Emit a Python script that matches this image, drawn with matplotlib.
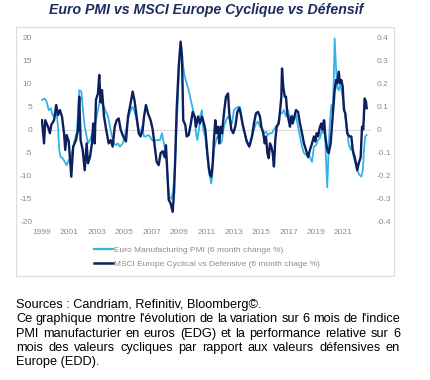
import matplotlib
matplotlib.use("Agg")
import matplotlib.pyplot as plt
from matplotlib.lines import Line2D
from matplotlib.patches import Rectangle

plt.rcParams['font.family'] = ['Liberation Sans', 'DejaVu Sans']
plt.rcParams['axes.unicode_minus'] = False

# Euro Manufacturing PMI, 6 month change (%) - left axis
pmi_years = [
    1999.00, 1999.20, 1999.34, 1999.49, 1999.64, 1999.78, 1999.93, 2000.07, 2000.17, 2000.26,
    2000.36, 2000.51, 2000.66, 2000.80, 2000.95, 2001.09, 2001.24, 2001.39, 2001.53, 2001.63,
    2001.72, 2001.87, 2001.97, 2002.12, 2002.26, 2002.36, 2002.50, 2002.60, 2002.74, 2002.89,
    2002.99, 2003.09, 2003.23, 2003.38, 2003.53, 2003.67, 2003.82, 2003.96, 2004.11, 2004.26,
    2004.40, 2004.55, 2004.69, 2004.89, 2005.04, 2005.18, 2005.33, 2005.47, 2005.62, 2005.77,
    2005.91, 2006.06, 2006.20, 2006.30, 2006.45, 2006.59, 2006.74, 2006.88, 2007.03, 2007.18,
    2007.32, 2007.47, 2007.61, 2007.76, 2007.85, 2008.00, 2008.10, 2008.20, 2008.29, 2008.44,
    2008.58, 2008.69, 2008.78, 2008.88, 2008.98, 2009.07, 2009.17, 2009.27, 2009.42, 2009.56,
    2009.71, 2009.85, 2010.00, 2010.15, 2010.24, 2010.34, 2010.48, 2010.53, 2010.68, 2010.77,
    2010.92, 2011.07, 2011.17, 2011.26, 2011.36, 2011.46, 2011.55, 2011.65, 2011.80, 2011.94,
    2012.04, 2012.14, 2012.28, 2012.43, 2012.58, 2012.72, 2012.87, 2013.01, 2013.16, 2013.31,
    2013.45, 2013.60, 2013.74, 2013.89, 2014.04, 2014.18, 2014.33, 2014.47, 2014.62, 2014.77,
    2014.91, 2015.06, 2015.20, 2015.35, 2015.50, 2015.64, 2015.79, 2015.93, 2016.08, 2016.23,
    2016.37, 2016.52, 2016.66, 2016.81, 2016.96, 2017.10, 2017.25, 2017.39, 2017.54, 2017.69,
    2017.83, 2017.98, 2018.12, 2018.27, 2018.42, 2018.56, 2018.71, 2018.85, 2019.00, 2019.15,
    2019.29, 2019.44, 2019.53, 2019.64, 2019.73, 2019.82, 2019.93, 2020.02, 2020.12, 2020.22,
    2020.31, 2020.36, 2020.46, 2020.55, 2020.66, 2020.75, 2020.90, 2021.04, 2021.14, 2021.28,
    2021.38, 2021.53, 2021.63, 2021.72, 2021.87, 2022.01, 2022.16, 2022.31, 2022.42, 2022.50,
    2022.60, 2022.70,
]
pmi_change = [
    6.4, 6.7, 6.0, 4.2, 4.6, 3.1, 2.8, 3.5, 0.6, -4.4,
    -6.0, -6.2, -7.0, -7.7, -6.6, -6.0, -4.4, -2.3, -0.8, 3.5,
    8.5, 8.2, 4.9, 0.6, -1.5, -3.0, -2.3, -1.5, 0.0, 1.3,
    2.8, 4.2, 6.4, 5.6, 4.9, 3.8, 2.8, 0.6, -1.5, -3.0,
    -3.4, -3.0, -3.7, -3.0, -1.5, 0.6, 2.8, 4.2, 4.9, 3.8,
    2.0, 0.0, -0.8, 0.6, -1.5, -1.5, -1.2, -1.5, -2.3, -2.6,
    -2.3, -2.3, -2.3, -0.8, -2.3, -4.4, -7.3, -11.7, -14.6, -15.0,
    -13.2, -8.8, -2.3, 4.2, 10.7, 17.3, 18.0, 14.4, 11.5, 10.0,
    8.5, 6.5, 4.6, 2.4, -0.8, -2.3, 0.6, 2.8, 4.2, 0.0,
    -1.5, -6.0, -8.8, -10.2, -11.7, -8.8, -4.4, -3.0, -1.5, -2.3,
    -3.0, -2.3, 0.6, 2.0, 2.8, 2.0, 1.3, 4.2, 4.6, 4.9,
    4.9, 2.0, 0.0, -1.9, -3.0, -3.4, -1.5, 0.0, 1.3, 1.7,
    0.6, 0.3, -0.8, -0.5, -1.2, -0.8, -0.8, 0.0, 0.6, 1.3,
    3.5, 3.5, 4.2, 2.8, 4.2, 2.0, 3.1, 2.0, 3.1, 0.6,
    -1.5, -3.7, -5.1, -5.5, -5.1, -6.0, -7.0, -3.7, -3.4, -2.3,
    -1.9, 0.0, -0.8, 2.0, -6.6, -12.5, -3.7, 2.0, 5.3, 3.5,
    12.2, 19.7, 13.6, 8.9, 8.5, 10.0, 7.8, 5.6, 2.8, 0.0,
    -3.0, -4.4, -3.4, -5.5, -7.3, -8.8, -9.8, -10.2, -8.8, -4.4,
    -1.5, -1.2,
]

# MSCI Europe Cyclical vs Defensive, 6 month change - right axis
msci_years = [
    1999.00, 1999.15, 1999.24, 1999.44, 1999.58, 1999.68, 1999.88, 2000.04, 2000.17, 2000.31,
    2000.46, 2000.61, 2000.70, 2000.80, 2000.95, 2001.14, 2001.28, 2001.48, 2001.63, 2001.72,
    2001.82, 2001.97, 2002.12, 2002.26, 2002.36, 2002.50, 2002.65, 2002.74, 2002.85, 2002.94,
    2003.09, 2003.18, 2003.28, 2003.38, 2003.53, 2003.69, 2003.87, 2004.01, 2004.16, 2004.31,
    2004.45, 2004.60, 2004.74, 2004.93, 2005.13, 2005.28, 2005.42, 2005.62, 2005.77, 2005.91,
    2006.06, 2006.20, 2006.35, 2006.45, 2006.59, 2006.74, 2006.93, 2007.08, 2007.23, 2007.37,
    2007.52, 2007.66, 2007.81, 2007.96, 2008.05, 2008.15, 2008.25, 2008.39, 2008.54, 2008.64,
    2008.73, 2008.83, 2008.98, 2009.12, 2009.22, 2009.31, 2009.46, 2009.56, 2009.71, 2009.85,
    2010.00, 2010.15, 2010.24, 2010.39, 2010.53, 2010.68, 2010.82, 2010.92, 2011.07, 2011.17,
    2011.26, 2011.36, 2011.46, 2011.55, 2011.65, 2011.75, 2011.85, 2011.94, 2012.04, 2012.14,
    2012.28, 2012.43, 2012.58, 2012.67, 2012.82, 2012.96, 2013.11, 2013.26, 2013.40, 2013.50,
    2013.65, 2013.80, 2013.94, 2014.13, 2014.33, 2014.47, 2014.62, 2014.77, 2014.91, 2015.01,
    2015.15, 2015.26, 2015.35, 2015.45, 2015.55, 2015.64, 2015.74, 2015.84, 2015.93, 2016.03,
    2016.13, 2016.28, 2016.37, 2016.47, 2016.52, 2016.61, 2016.72, 2016.81, 2016.90, 2017.01,
    2017.10, 2017.20, 2017.30, 2017.39, 2017.54, 2017.69, 2017.83, 2017.98, 2018.12, 2018.27,
    2018.42, 2018.56, 2018.71, 2018.85, 2018.95, 2019.05, 2019.15, 2019.29, 2019.39, 2019.49,
    2019.58, 2019.68, 2019.82, 2019.93, 2020.07, 2020.22, 2020.36, 2020.46, 2020.55, 2020.66,
    2020.75, 2020.85, 2020.95, 2021.04, 2021.14, 2021.28, 2021.43, 2021.58, 2021.68, 2021.82,
    2021.92, 2022.01, 2022.12, 2022.26, 2022.36, 2022.45, 2022.55, 2022.65, 2022.70,
]
msci_change = [
    0.040, -0.060, 0.040, 0.012, -0.016, 0.020, 0.040, 0.106, 0.062, 0.084,
    0.056, -0.016, -0.088, -0.024, -0.050, -0.204, -0.074, -0.046, -0.002, 0.142,
    -0.046, -0.088, -0.176, -0.060, -0.146, -0.120, -0.060, 0.026, -0.060, 0.128,
    0.156, 0.236, 0.118, 0.170, 0.056, -0.002, -0.060, -0.046, -0.074, 0.012,
    0.040, 0.048, 0.000, -0.030, -0.052, 0.056, 0.098, 0.164, 0.120, 0.056,
    -0.016, -0.030, 0.000, 0.056, 0.106, 0.070, 0.040, 0.000, -0.074, -0.140,
    -0.154, -0.102, -0.094, -0.120, -0.068, -0.190, -0.304, -0.320, -0.356, -0.270,
    -0.120, 0.084, 0.272, 0.380, 0.314, 0.040, 0.020, -0.030, -0.024, 0.020,
    0.076, 0.056, 0.012, 0.056, 0.026, 0.056, 0.026, 0.000, -0.102, -0.160,
    -0.196, -0.204, -0.146, -0.046, 0.040, -0.016, 0.012, -0.060, 0.012, -0.016,
    0.070, 0.142, 0.156, 0.070, 0.000, -0.016, 0.012, 0.076, 0.092, 0.070,
    0.020, -0.016, -0.052, -0.074, -0.030, 0.026, 0.070, 0.076, 0.056, 0.012,
    -0.016, -0.060, -0.030, -0.102, -0.124, -0.060, -0.074, -0.102, -0.160, -0.046,
    0.012, 0.026, 0.076, 0.142, 0.264, 0.186, 0.142, 0.142, 0.070, 0.040,
    0.012, 0.056, 0.026, 0.048, 0.084, 0.076, 0.026, -0.016, -0.060, -0.088,
    -0.120, -0.088, -0.060, -0.030, -0.052, -0.016, -0.030, 0.012, 0.026, 0.000,
    0.040, -0.030, -0.088, -0.102, -0.060, 0.056, 0.170, 0.214, 0.200, 0.250,
    0.200, 0.214, 0.186, 0.084, 0.070, -0.016, -0.030, -0.030, -0.088, -0.120,
    -0.146, -0.176, -0.146, -0.120, 0.012, 0.000, 0.134, 0.120, 0.092,
]

year_ticks = list(range(1999, 2022, 2))
left_ticks = [-20, -15, -10, -5, 0, 5, 10, 15, 20]
right_ticks = [-0.4, -0.3, -0.2, -0.1, 0, 0.1, 0.2, 0.3, 0.4]

title = "Euro PMI vs MSCI Europe Cyclique vs Défensif"
pmi_label = "Euro Manufacturing PMI (6 month change %)"
msci_label = "MSCI Europe Cyclical vs Defensive (6 month chage %)"
footer = [
    ("Sources : Candriam, Refinitiv, Bloomberg©.", False),
    ("Ce graphique montre l'évolution de la variation sur 6 mois de l'indice", True),
    ("PMI manufacturier en euros (EDG) et la performance relative sur 6", True),
    ("mois des valeurs cycliques par rapport aux valeurs défensives en", True),
    ("Europe (EDD).", False),
]

light = "#35b3e6"
dark = "#0c1f5e"
grey = "#8c8c8c"
W, H = 430, 380

fig = plt.figure(figsize=(W / 100, H / 100), dpi=100)

# light grey frame round the chart block
fig.patches.append(Rectangle((16 / W, 1 - 276 / H), 378 / W, 249 / H,
                             transform=fig.transFigure, fill=False,
                             edgecolor="#dcdcdc", linewidth=0.8))

ax = fig.add_axes([40.6 / W, 1 - 222 / H, 330.2 / W, 185 / H])
ax2 = ax.twinx()

ax.axhline(0, color="#d9d9d9", linewidth=0.8, zorder=0)
ax.plot(pmi_years, pmi_change, color=light, linewidth=1.3)
ax2.plot(msci_years, msci_change, color=dark, linewidth=1.7)

ax.set_xlim(1998.9, 2023.0)
ax.set_ylim(-20, 20)
ax2.set_ylim(-0.4, 0.4)
ax.set_xticks(year_ticks)
ax.set_xticklabels([str(y) for y in year_ticks])
ax.set_yticks(left_ticks)
ax.set_yticklabels([str(v) for v in left_ticks])
ax2.set_yticks(right_ticks)
ax2.set_yticklabels(["%g" % v for v in right_ticks])

for a in (ax, ax2):
    for s in a.spines.values():
        s.set_visible(False)
    a.tick_params(length=0, labelsize=6, labelcolor=grey)
ax.tick_params(axis="y", pad=6)
ax.tick_params(axis="x", pad=5)
ax2.tick_params(axis="y", pad=4)

handles = [Line2D([], [], color=light, linewidth=1.6),
           Line2D([], [], color=dark, linewidth=1.8)]
leg = fig.legend(handles, [pmi_label, msci_label], loc="center left",
                 bbox_to_anchor=(94 / W, 1 - 257 / H), frameon=False,
                 fontsize=6, handlelength=2.3, handletextpad=0.1,
                 labelspacing=0.75, borderpad=0, borderaxespad=0)
for t in leg.get_texts():
    t.set_color(grey)

fig.text(206 / W, 1 - 10 / H, title, ha="center", va="center",
         fontsize=10.2, fontweight="bold", fontstyle="italic", color="#1b2b5e")

# footer paragraph, justified by hand
renderer = fig.canvas.get_renderer()
baselines = [308, 322.3, 336.6, 350.8, 365]
x0, x1 = 16, 400
for (line, justify), by in zip(footer, baselines):
    y = 1 - by / H
    if not justify:
        fig.text(x0 / W, y, line, fontsize=9.2, color="black", va="baseline")
        continue
    words = line.split()
    texts = [fig.text(0, y, w, fontsize=9.2, color="black", va="baseline") for w in words]
    widths = [t.get_window_extent(renderer).width for t in texts]
    gap = (x1 - x0 - sum(widths)) / (len(words) - 1)
    pos = x0
    for t, w in zip(texts, widths):
        t.set_x(pos / W)
        pos += w + gap

fig.savefig("out.png", dpi=100)
